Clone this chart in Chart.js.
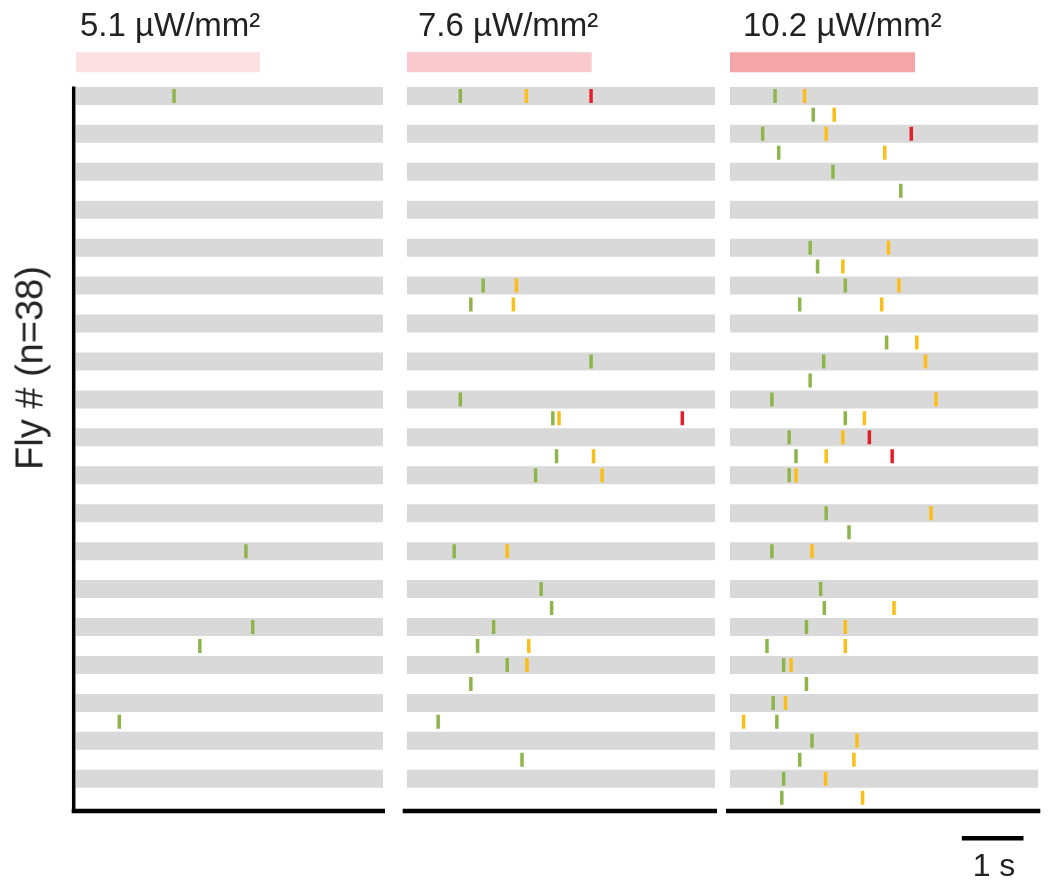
<!DOCTYPE html>
<html lang="en">
<head>
    <meta charset="UTF-8">
    <title>Fly responses</title>
    <script src="https://cdn.jsdelivr.net/npm/chart.js"></script>
</head>
<style>
    body {
    margin: 0;
    background: white;
    font-family: "Liberation Sans", Arial, sans-serif;
    color: #222;
}

.wrap {
    position: relative;
    width: 1050px;
    height: 888px;
    overflow: hidden;
}

canvas {
    position: absolute;
    top: 0;
}

.title {
    position: absolute;
    top: 8px;
    font-size: 33px;
    line-height: 33px;
    white-space: nowrap;
}

.ylabel {
    position: absolute;
    left: 30px;
    top: 368px;
    font-size: 38px;
    white-space: nowrap;
    transform: translate(-50%, -50%) rotate(-90deg);
}

.scale {
    position: absolute;
    left: 994px;
    top: 849px;
    font-size: 32px;
    line-height: 32px;
    transform: translateX(-50%);
}
</style>
<body>
<div class="wrap">
    <canvas id="p1" width="395" height="888" style="left:0px;width:395px;height:888px"></canvas>
    <canvas id="p2" width="325" height="888" style="left:395px;width:325px;height:888px"></canvas>
    <canvas id="p3" width="330" height="888" style="left:720px;width:330px;height:888px"></canvas>
    <div class="title" style="left:80px">5.1 µW/mm²</div>
    <div class="title" style="left:418px">7.6 µW/mm²</div>
    <div class="title" style="left:743px">10.2 µW/mm²</div>
    <div class="ylabel">Fly # (n=38)</div>
    <div class="scale">1 s</div>
</div>
<script>
// light intensities, stimulus length (s), trial length (s)
const intensities = ['5.1 µW/mm²', '7.6 µW/mm²', '10.2 µW/mm²'];
const stimOff = [3, 3, 3];
const trialEnd = 5;
const nFlies = 38;

// flies drawn on a grey band
const bandRows = [0, 2, 4, 6, 8, 10, 12, 14, 16, 18, 20, 22, 24, 26, 28, 30, 32, 34, 36];

// [fly row, time in s]
const p1Green = [[0, 1.60], [24, 2.77], [28, 2.88], [29, 2.02], [33, 0.71]];
const p1Orange = [];
const p1Red = [];

const p2Green = [[0, 0.87], [10, 1.24], [11, 1.04], [14, 2.99], [16, 0.87], [17, 2.37], [19, 2.43], [20, 2.09],
    [24, 0.77], [26, 2.18], [27, 2.35], [28, 1.41], [29, 1.15], [30, 1.63], [31, 1.04], [33, 0.51], [35, 1.87]];
const p2Orange = [[0, 1.94], [10, 1.78], [11, 1.73], [17, 2.47], [19, 3.03], [20, 3.17], [24, 1.63], [29, 1.98], [30, 1.95]];
const p2Red = [[0, 2.99], [17, 4.47]];

const p3Green = [[0, 0.73], [1, 1.35], [2, 0.53], [3, 0.79], [4, 1.67], [5, 2.77], [8, 1.30], [9, 1.42], [10, 1.87],
    [11, 1.13], [13, 2.54], [14, 1.52], [15, 1.30], [16, 0.68], [17, 1.87], [18, 0.96], [19, 1.07], [20, 0.96],
    [22, 1.56], [23, 1.93], [24, 0.68], [26, 1.47], [27, 1.53], [28, 1.24], [29, 0.60], [30, 0.87], [31, 1.24],
    [32, 0.70], [33, 0.76], [34, 1.33], [35, 1.13], [36, 0.87], [37, 0.84]];
const p3Orange = [[0, 1.21], [1, 1.69], [2, 1.56], [3, 2.51], [8, 2.57], [9, 1.83], [10, 2.74], [11, 2.46], [13, 3.03],
    [14, 3.17], [16, 3.34], [17, 2.18], [18, 1.83], [19, 1.56], [20, 1.07], [22, 3.26], [24, 1.33], [27, 2.66],
    [28, 1.87], [29, 1.87], [30, 0.99], [32, 0.90], [33, 0.22], [34, 2.06], [35, 2.01], [36, 1.55], [37, 2.15]];
const p3Red = [[2, 2.94], [18, 2.26], [19, 2.63]];

const scaleBarLength = 1; // s

const GREEN = '#8db54b', ORANGE = '#fbbd17', RED = '#e11f2a', BAND = '#d9d9d9';
const stimColors = ['#fde0e4', '#fac9cd', '#f5a4a8'];

// row units: stimulus bar row and scale bar row sit outside the fly rows
const STIM_ROW = -1.78;
const SCALEBAR_ROW = 39.14;
const SCALEBAR_START = 3.76;

const axesPlugin = {
    id: 'axes',
    afterDatasetsDraw(chart, args, opts) {
        const ctx = chart.ctx;
        const xs = chart.scales.x, ys = chart.scales.y;
        const bottom = chart.chartArea.bottom;
        ctx.save();
        ctx.strokeStyle = '#000';
        ctx.lineWidth = 4.5;
        ctx.beginPath();
        ctx.moveTo(xs.getPixelForValue(0) - 4, bottom);
        ctx.lineTo(xs.getPixelForValue(trialEnd) + 2, bottom);
        ctx.stroke();
        if (opts.left) {
            ctx.lineWidth = 3.5;
            ctx.beginPath();
            ctx.moveTo(xs.getPixelForValue(0) - 2, ys.getPixelForValue(-0.5));
            ctx.lineTo(xs.getPixelForValue(0) - 2, bottom + 2);
            ctx.stroke();
        }
        ctx.restore();
    }
};

function marks(list, color) {
    return {
        data: list.map(d => ({x: d[1], y: d[0]})),
        showLine: false,
        pointStyle: 'line',
        rotation: 90,
        pointRadius: 7,
        pointBorderWidth: 3.5,
        pointBorderColor: color,
        pointBackgroundColor: color,
        order: 0
    };
}

function makePanel(id, i, green, orange, red, pad, extra) {
    const datasets = [];
    // stimulus bar
    datasets.push({
        type: 'line',
        data: [{x: 0, y: STIM_ROW}, {x: stimOff[i], y: STIM_ROW}],
        borderColor: stimColors[i],
        borderWidth: 20,
        pointRadius: 0,
        order: 2
    });
    bandRows.forEach(r => {
        datasets.push({
            type: 'line',
            data: [{x: 0, y: r}, {x: trialEnd, y: r}],
            borderColor: BAND,
            borderWidth: 18,
            pointRadius: 0,
            order: 2
        });
    });
    datasets.push(marks(green, GREEN));
    datasets.push(marks(orange, ORANGE));
    datasets.push(marks(red, RED));
    if (extra) {
        datasets.push({
            type: 'line',
            data: [{x: SCALEBAR_START, y: SCALEBAR_ROW}, {x: SCALEBAR_START + scaleBarLength, y: SCALEBAR_ROW}],
            borderColor: '#000',
            borderWidth: 4.5,
            pointRadius: 0,
            clip: false,
            order: 1
        });
    }

    new Chart(document.getElementById(id), {
        type: 'scatter',
        data: { datasets: datasets },
        plugins: [axesPlugin],
        options: {
            responsive: false,
            animation: false,
            layout: { padding: pad, autoPadding: false },
            plugins: {
                legend: { display: false },
                tooltip: { enabled: false },
                axes: { left: i === 0 }
            },
            scales: {
                x: { type: 'linear', min: 0, max: trialEnd, display: false },
                y: { type: 'linear', min: -3, max: nFlies - 0.3, reverse: true, display: false }
            }
        }
    });
}

makePanel('p1', 0, p1Green, p1Orange, p1Red, {left: 75.7, right: 12, top: 39, bottom: 77}, false);
makePanel('p2', 1, p2Green, p2Orange, p2Red, {left: 11.7, right: 5, top: 39, bottom: 77}, false);
makePanel('p3', 2, p3Green, p3Orange, p3Red, {left: 10, right: 11.7, top: 39, bottom: 77}, true);
</script>
</body>
</html>
